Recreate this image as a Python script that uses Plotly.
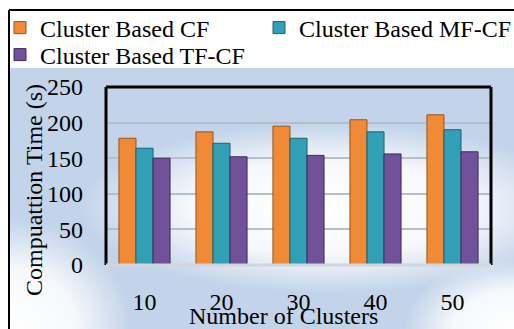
import base64
import plotly.graph_objects as go

# Computation time (s) per number of clusters
clusters = ["10", "20", "30", "40", "50"]
cf_times = [178, 187, 195, 204, 211]
mf_cf_times = [164, 171, 178, 187, 190]
tf_cf_times = [150, 152, 154, 156, 159]

series_names = ["Cluster Based CF", "Cluster Based MF-CF", "Cluster Based TF-CF"]
series_values = [cf_times, mf_cf_times, tf_cf_times]
series_colors = ["#f08a36", "#31a0b6", "#71529a"]
series_edges = ["#9a5418", "#1d6070", "#3f2c5a"]
series_legends = ["legend", "legend2", "legend3"]

W, H = 514, 329
L, R, T, B = 106, 23, 87, 64
PW, PH = W - L - R, H - T - B

FONT = "Liberation Serif"

# soft blue chart-area backdrop with white glows
bg_svg = """<svg xmlns='http://www.w3.org/2000/svg' width='504' height='261' viewBox='0 0 504 261'>
<defs>
<radialGradient id='g1' cx='0.5' cy='0.5' r='0.5'>
<stop offset='0' stop-color='#ffffff' stop-opacity='1'/>
<stop offset='0.55' stop-color='#ffffff' stop-opacity='0.85'/>
<stop offset='1' stop-color='#ffffff' stop-opacity='0'/>
</radialGradient>
</defs>
<rect x='0' y='0' width='504' height='261' fill='#c3d4ea'/>
<ellipse cx='320' cy='140' rx='250' ry='85' fill='url(#g1)'/>
<ellipse cx='0' cy='261' rx='120' ry='110' fill='url(#g1)'/>
<ellipse cx='504' cy='261' rx='110' ry='70' fill='url(#g1)'/>
</svg>"""
bg_uri = "data:image/svg+xml;base64," + base64.b64encode(bg_svg.encode()).decode()


def px_x(x):
    return (x - L) / PW


def px_y(y):
    return (H - B - y) / PH


fig = go.Figure()
for name, vals, col, edge, lg in zip(series_names, series_values, series_colors,
                                     series_edges, series_legends):
    fig.add_trace(go.Bar(
        name=name, x=clusters, y=vals, legend=lg,
        marker=dict(color=col, line=dict(color=edge, width=1)),
    ))

fig.add_layout_image(
    source=bg_uri, xref="paper", yref="paper",
    x=px_x(10), y=px_y(68), sizex=(W - 10) / PW, sizey=(329 - 68) / PH,
    xanchor="left", yanchor="top", sizing="stretch", layer="below",
)

shapes = [
    # outer frame
    dict(type="line", xref="paper", yref="paper", x0=px_x(9), x1=px_x(520), y0=px_y(10), y1=px_y(10),
         line=dict(color="black", width=2)),
    dict(type="line", xref="paper", yref="paper", x0=px_x(9), x1=px_x(9), y0=px_y(10), y1=px_y(335),
         line=dict(color="black", width=2)),
    # plot frame: black on left, top, right; grey baseline
    dict(type="line", xref="paper", yref="paper", x0=0, x1=1, y0=1, y1=1,
         line=dict(color="black", width=3)),
    dict(type="line", xref="paper", yref="paper", x0=0, x1=0, y0=0, y1=1,
         line=dict(color="black", width=3)),
    dict(type="line", xref="paper", yref="paper", x0=1, x1=1, y0=0, y1=1,
         line=dict(color="black", width=3)),
    dict(type="line", xref="paper", yref="paper", x0=0, x1=1, y0=0, y1=0,
         line=dict(color="#d2d6dc", width=3)),
]

legend_common = dict(
    orientation="h",
    xref="container", yref="container",
    xanchor="left", yanchor="middle",
    itemwidth=30,
    bgcolor="rgba(0,0,0,0)",
    font=dict(family=FONT, size=24),
)

fig.update_layout(
    width=W, height=H,
    margin=dict(l=L, r=R, t=T, b=B, pad=0, autoexpand=False),
    paper_bgcolor="white",
    plot_bgcolor="rgba(0,0,0,0)",
    font=dict(family=FONT, size=24, color="black"),
    barmode="group",
    bargap=0.336,
    bargroupgap=0,
    shapes=shapes,
    legend=dict(legend_common, x=-2 / W, y=1 - 28 / H),
    legend2=dict(legend_common, x=259 / W, y=1 - 28 / H),
    legend3=dict(legend_common, x=-2 / W, y=1 - 55 / H),
    showlegend=True,
    annotations=[
        dict(text="Number of Clusters", xref="paper", yref="paper",
             x=px_x(283), y=px_y(316), showarrow=False,
             xanchor="center", yanchor="middle", font=dict(family=FONT, size=24)),
        dict(text="Compuattion Time (s)", xref="paper", yref="paper",
             x=px_x(34), y=px_y(190), showarrow=False, textangle=-90,
             xanchor="center", yanchor="middle", font=dict(family=FONT, size=24)),
    ],
)

fig.update_xaxes(
    showline=False, showgrid=False, ticks="", ticklabelstandoff=20,
    tickfont=dict(family=FONT, size=24),
)
fig.update_yaxes(
    range=[0, 250], dtick=50, showline=False, zeroline=False,
    showgrid=True, gridcolor="#b3bfcd", gridwidth=2,
    ticks="", ticklabelstandoff=22,
    tickfont=dict(family=FONT, size=24),
)

fig.write_html("out.html")
